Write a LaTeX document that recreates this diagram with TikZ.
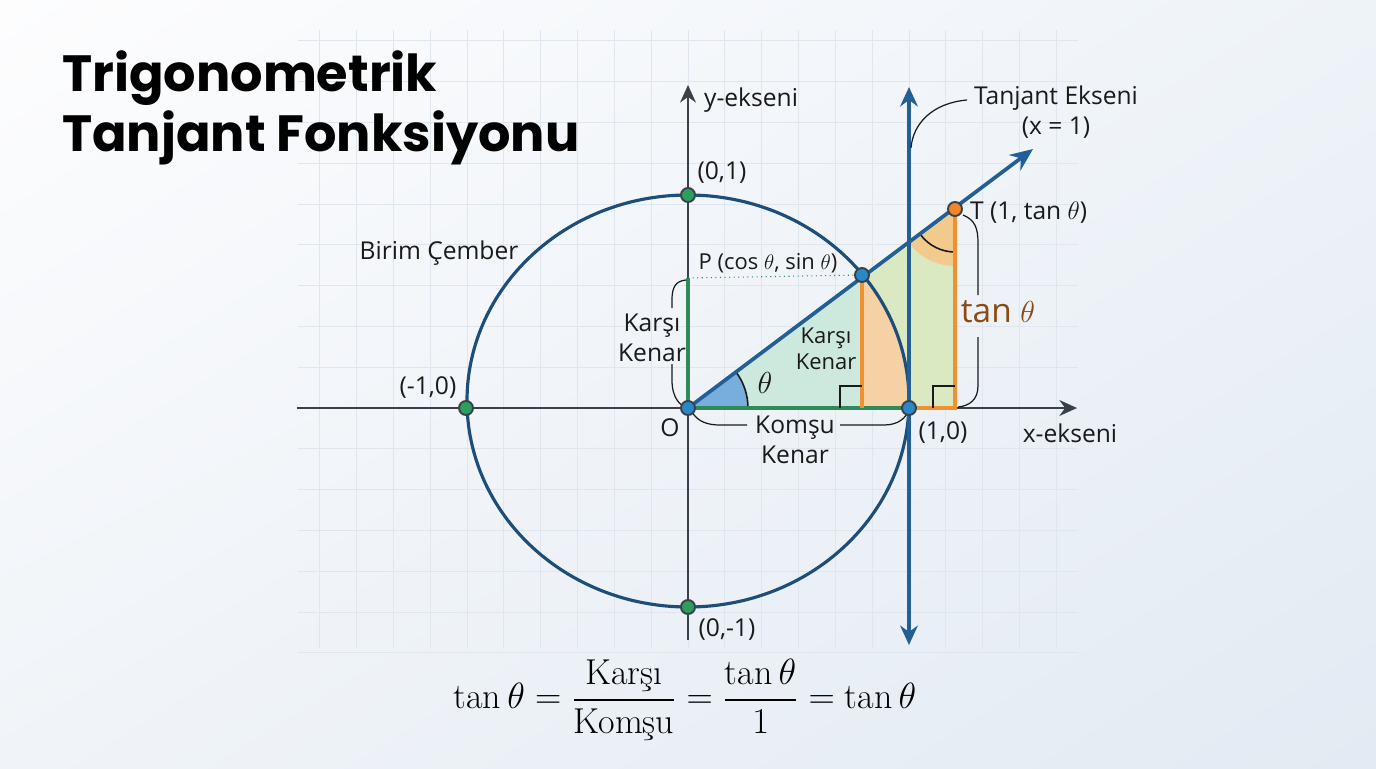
\documentclass[tikz,border=0pt]{standalone}
\usepackage{amsmath}
\usepackage{fontspec}
\usetikzlibrary{arrows.meta,shadings}
\newfontfamily\labelfont{Open Sans}
\newfontfamily\titlefont{Poppins}
\definecolor{bgA}{HTML}{FDFDFE}
\definecolor{bgB}{HTML}{EEF3F8}
\definecolor{bgC}{HTML}{F0F4F8}
\definecolor{bgD}{HTML}{E3EAF3}
\definecolor{gridline}{HTML}{DFE6EE}
\definecolor{circblue}{HTML}{1D4E79}
\definecolor{axisgray}{HTML}{3A4049}
\definecolor{rayblue}{HTML}{225F96}
\definecolor{segreen}{HTML}{2E8B57}
\definecolor{segorange}{HTML}{EE912E}
\definecolor{fillteal}{HTML}{CDE8DC}
\definecolor{fillorange}{HTML}{F6D1A5}
\definecolor{fillgreen}{HTML}{DAE9C1}
\definecolor{fillwedge}{HTML}{F3CA8E}
\definecolor{fillangle}{HTML}{78AEDB}
\definecolor{dotgreen}{HTML}{2E9E5F}
\definecolor{dotblue}{HTML}{2A87C9}
\definecolor{dotorange}{HTML}{F0862A}
\definecolor{tanbrown}{HTML}{8B4A14}
\definecolor{labeltext}{HTML}{1A1A1A}

\begin{document}
\begin{tikzpicture}
[x=0.02cm,y=0.02cm,
  labeldecorate/.style={font=\labelfont\fontsize{14}{17}\selectfont,text=labeltext,inner sep=1pt},%
  dotdecorate/.style={shape=circle,inner sep=0pt,minimum size=0.28cm,draw=axisgray,line width=1.1pt},%
  axisdecorate/.style={-{Stealth[length=10pt,width=9pt]},line width=1.5pt,draw=axisgray},%
  raydecorate/.style={line width=2.1pt,draw=rayblue},%
  legdecorate/.style={line width=1.9pt},%
  bracedecorate/.style={line width=0.7pt,draw=labeltext},%
  griddecorate/.style={line width=0.5pt,draw=gridline}]
\useasboundingbox (-688,-360) rectangle (688,408);
% background and grid
\shade[upper left=bgA,upper right=bgB,lower left=bgC,lower right=bgD] (-688,-360) rectangle (688,408);
\foreach \gx in {-10,...,10}
  \draw[griddecorate] (\gx*36.83,-240) -- (\gx*36.83,378);
\foreach \gy in {-6,...,9}
  \draw[griddecorate] (-390,\gy*40.8) -- (390,\gy*40.8);
% points
\coordinate (O) at (0,0);
\coordinate (P) at (174,133);
\coordinate (T) at (267,199);
\coordinate (A) at (221,0);
\coordinate (Pfoot) at (174,0);
\coordinate (Tfoot) at (267,0);
\coordinate (Ptop) at (0,130);
\coordinate (xstart) at (-391,0);
\coordinate (xend) at (389,0);
\coordinate (ystart) at (0,-232);
\coordinate (yend) at (0,323);
\coordinate (tstart) at (221,-237);
\coordinate (tend) at (221,321);
\coordinate (rayend) at (345,259);
% fills
\fill[fillteal] (O) -- (P) -- (Pfoot) -- cycle;
\fill[fillorange] (Pfoot) -- (P) arc[start angle=38.07,end angle=-1.95,x radius=221,y radius=206] -- cycle;
\fill[fillgreen] (P) -- (T) -- (Tfoot) -- (A) arc[start angle=-1.95,end angle=38.07,x radius=221,y radius=206] -- cycle;
\fill[fillwedge] (T) -- ++(216.9:57) arc[start angle=216.9,end angle=270,radius=57] -- cycle;
\fill[fillangle] (O) -- (60,0) arc[start angle=0,end angle=37,radius=60] -- cycle;
\draw[bracedecorate,line width=0.9pt] (60,0) arc[start angle=0,end angle=37,radius=60];
\draw[bracedecorate,line width=0.9pt] (T) ++(216.9:43) arc[start angle=216.9,end angle=270,radius=43];
% unit circle and axes
\draw[line width=1.8pt,draw=circblue] (0,7) ellipse [x radius=221,y radius=206];
\draw[axisdecorate] (xstart) -- (xend);
\draw[axisdecorate] (ystart) -- (yend);
\draw[raydecorate,{Stealth[length=11pt,width=10pt]}-{Stealth[length=11pt,width=10pt]}] (tstart) -- (tend);
\draw[raydecorate,-{Stealth[length=13pt,width=11pt]}] (O) -- (rayend);
% legs
\draw[legdecorate,draw=segreen] (O) -- (Ptop);
\draw[legdecorate,draw=segreen] (O) -- (A);
\draw[line width=0.6pt,dotted,draw=segreen] (Ptop) -- (P);
\draw[legdecorate,draw=segorange] (Pfoot) -- (P);
\draw[legdecorate,draw=segorange] (A) -- (Tfoot) -- (T);
\draw[bracedecorate] (152,0) |- (174,22);
\draw[bracedecorate] (245,0) |- (267,22);
% braces
\draw[bracedecorate] (-2,128) .. controls (-13,127) and (-16,120) .. (-16,108) -- (-16,100);
\draw[bracedecorate] (-16,44) -- (-16,28) .. controls (-16,10) and (-8,2) .. (O);
\draw[bracedecorate] (4,-4) .. controls (10,-14) and (20,-17) .. (32,-17) -- (59,-17);
\draw[bracedecorate] (152,-17) -- (196,-17) .. controls (210,-17) and (218,-10) .. (220,-3);
\draw[bracedecorate] (275,193) .. controls (287,188) and (290,180) .. (290,165) -- (290,113);
\draw[bracedecorate] (290,71) -- (290,22) .. controls (290,8) and (281,2) .. (270,1);
\draw[bracedecorate] (279,308) .. controls (245,305) and (225,285) .. (223,260);
% dots
\node (Odot) at (O) [dotdecorate,fill=dotblue] {};
\node (Pdot) at (P) [dotdecorate,fill=dotblue] {};
\node (Adot) at (A) [dotdecorate,fill=dotblue] {};
\node (Tdot) at (T) [dotdecorate,fill=dotorange] {};
\node (Cdot) at (0,213) [dotdecorate,fill=dotgreen] {};
\node (Bdot) at (-222,0) [dotdecorate,fill=dotgreen] {};
\node (Ddot) at (0,-199) [dotdecorate,fill=dotgreen] {};
% labels
\node[labeldecorate,anchor=west] (ylab) at (14,308) {y-ekseni};
\node[labeldecorate] (clab) at (34,235) {(0,1)};
\node[labeldecorate,align=center] (tanaxis) at (368,296) {Tanjant Ekseni\\(x = 1)};
\node[labeldecorate,anchor=west] (tlab) at (280,195) {T (1, tan $\theta$)};
\node[labeldecorate] (circlab) at (-249,155) {Birim Çember};
\node[labeldecorate,font=\labelfont\fontsize{12.5}{15}\selectfont] (plab) at (80,145) {P (cos $\theta$, sin $\theta$)};
\node[labeldecorate,align=center] (oppleft) at (-36,70) {Karşı\\Kenar};
\node[labeldecorate,align=center,font=\labelfont\fontsize{12.5}{15}\selectfont] (oppin) at (138,59) {Karşı\\Kenar};
\node[labeldecorate] (thetalab) at (77,25) {\fontsize{19}{22}\selectfont$\theta$};
\node[labeldecorate] (blab) at (-260,20) {(-1,0)};
\node[labeldecorate] (olab) at (-18,-20) {O};
\node[labeldecorate,align=center] (adjlab) at (107,-32) {Komşu\\Kenar};
\node[labeldecorate] (alab) at (255,-25) {(1,0)};
\node[labeldecorate] (xlab) at (382,-25) {x-ekseni};
\node[labeldecorate,text=tanbrown,font=\labelfont\fontsize{19}{22}\selectfont] (tanlab) at (310,96) {tan $\theta$};
\node[labeldecorate] (dlab) at (39,-222) {(0,-1)};
% title and formula
\node[anchor=west,align=left,text=black,font=\titlefont\bfseries\fontsize{29}{34}\selectfont] (title) at (-632,300) {Trigonometrik\\Tanjant Fonksiyonu};
\node[font=\fontsize{20.5}{24}\selectfont] (formula) at (-3,-292) {$\displaystyle\tan\theta = \frac{\text{Karşı}}{\text{Komşu}} = \frac{\tan\theta}{1} = \tan\theta$};
\end{tikzpicture}
\end{document}
